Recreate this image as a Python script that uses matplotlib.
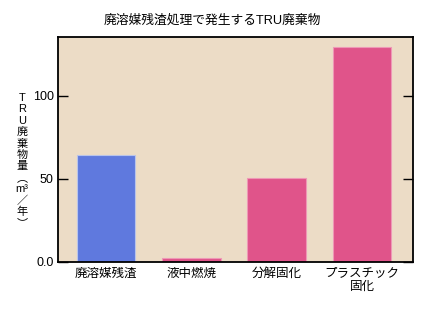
import matplotlib
matplotlib.use("Agg")
import matplotlib.pyplot as plt
from matplotlib.ticker import FixedLocator, FixedFormatter

plt.rcParams['font.family'] = ['Liberation Sans', 'Noto Sans CJK JP', 'DejaVu Sans']

title = "廃溶媒残渣処理で発生するTRU廃棄物"
categories = ["廃溶媒残渣", "液中燃焼", "分解固化", "プラスチック\n固化"]
values = [64.5, 2.3, 50.3, 129.5]
bar_colors = ["#5f79de", "#e0548a", "#e0548a", "#e0548a"]
edge_colors = ["#b9c4ea", "#ee98b6", "#ee98b6", "#ee98b6"]
ytick_values = [0, 50, 100]
ytick_labels = ["0.0", "50", "100"]
ylabel_chars = ["T", "R", "U", "廃", "棄", "物", "量", "︵", "m³", "／", "年", "︶"]

fig = plt.figure(figsize=(4.25, 3.12), dpi=100)
ax = fig.add_axes([58 / 425, 1 - 262 / 312, 355 / 425, 225 / 312])
ax.set_facecolor("#ecdcc6")

x = list(range(len(categories)))
ax.bar(x, values, width=0.69, color=bar_colors, edgecolor=edge_colors, linewidth=0.8)

ax.set_xlim(-0.563, 3.598)
ax.set_ylim(0, 135.5)

ax.set_xticks(x)
ax.set_xticklabels(categories, fontsize=9, linespacing=1.1)
ax.tick_params(axis="x", length=0, pad=4)

ax.yaxis.set_major_locator(FixedLocator(ytick_values))
ax.yaxis.set_major_formatter(FixedFormatter(ytick_labels))
ax.tick_params(axis="y", direction="in", length=7.5, width=1.0, left=True, right=True,
               labelsize=9, pad=3)

for s in ax.spines.values():
    s.set_linewidth(1.3)
    s.set_color("black")

fig.text(0.5, 1 - 21 / 312, title, ha="center", va="center", fontsize=9.2)

# vertical axis title, one glyph per row
y0 = 98
step = 11.4
for i, ch in enumerate(ylabel_chars):
    fig.text(22 / 425, 1 - (y0 + i * step) / 312, ch, ha="center", va="center", fontsize=8)

fig.savefig("out.png", dpi=100, facecolor="white")
